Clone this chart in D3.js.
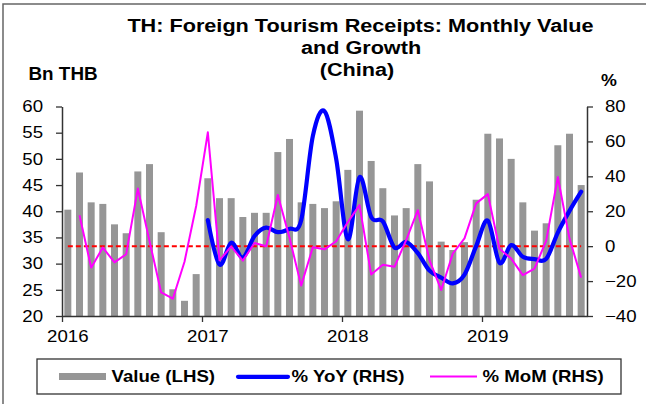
<!DOCTYPE html>
<html><head><meta charset="utf-8">
<script src="https://cdn.jsdelivr.net/npm/d3@7"></script>
<style>
body{margin:0;background:#fff}
svg{display:block}
text{font-family:'Liberation Sans',Arial,Helvetica,sans-serif}
</style>
</head><body>
<svg id="c" width="646" height="404"></svg>
<script>
const months = [
 "2016-01","2016-02","2016-03","2016-04","2016-05","2016-06","2016-07","2016-08","2016-09","2016-10","2016-11","2016-12",
 "2017-01","2017-02","2017-03","2017-04","2017-05","2017-06","2017-07","2017-08","2017-09","2017-10","2017-11","2017-12",
 "2018-01","2018-02","2018-03","2018-04","2018-05","2018-06","2018-07","2018-08","2018-09","2018-10","2018-11","2018-12",
 "2019-01","2019-02","2019-03","2019-04","2019-05","2019-06","2019-07","2019-08","2019-09"];
const valueLHS = [
 40.3,47.4,41.7,41.4,37.5,35.8,47.6,49.0,36.0,25.1,22.9,28.0,
 46.3,42.5,42.5,38.9,39.7,39.7,51.3,53.8,41.7,41.4,40.6,41.9,
 47.9,59.2,49.6,44.4,39.2,40.6,49.0,45.7,34.2,32.6,34.1,42.2,
 54.8,53.9,50.0,41.7,36.3,37.7,52.6,54.8,45.0];
const yoyRHS = [
 null,null,null,null,null,null,null,null,null,null,null,null,
 14.9,-10.5,2.0,-6.5,5.8,10.6,8.0,9.9,14.8,63.0,77.3,50.0,
 4.0,39.5,16.7,14.2,-0.8,2.4,-4.0,-14.0,-18.0,-21.3,-16.3,0.0,
 14.6,-9.5,0.6,-6.1,-7.4,-7.3,7.8,20.2,31.2];
const momRHS = [
 null,17.7,-12.3,-0.8,-9.3,-4.6,33.0,2.9,-26.5,-30.1,-8.9,23.0,
 65.2,-8.1,-0.2,-8.3,1.8,0.0,29.3,4.8,-22.6,-0.6,-1.8,2.8,
 13.8,23.5,-16.2,-10.7,-11.8,3.5,20.6,-8.0,-25.1,-4.2,4.5,24.5,
 29.8,-1.5,-7.1,-16.6,-12.8,3.0,39.6,4.3,-18.0];
const leftTicks = [20,25,30,35,40,45,50,55,60];
const rightTicks = [-40,-20,0,20,40,60,80];
const yearTickIdx = [0,12,24,36];
const yearLabelMonths = ["2016-01","2017-01","2018-01","2019-01"];
const yearLabels = ["2016","2017","2018","2019"];
const titleLines = ["TH: Foreign Tourism Receipts: Monthly Value","and Growth","(China)"];
const legendLabels = ["Value (LHS)","% YoY (RHS)","% MoM (RHS)"];

const SX = 1.13;
const svg = d3.select("#c");
const L = 62, R = 587, T = 106.5, B = 316;

const x = d3.scaleBand().domain(months).range([L,R]).paddingInner(0.4).paddingOuter(0.2);
const xc = d => x(d) + x.bandwidth()/2;
const xEdge = d3.scaleLinear().domain([0, months.length]).range([L,R]);
const yL = d3.scaleLinear().domain([20,60]).range([B,T]);
const yR = d3.scaleLinear().domain([-40,80]).range([B,T]);

function txt(parent, px, py, str, size, weight, anchor, sx){
  return parent.append("g").attr("transform",`translate(${px},${py})`)
    .append("text").attr("transform",`scale(${sx},1)`)
    .attr("font-size",size).attr("font-weight",weight).attr("text-anchor",anchor)
    .attr("fill","#000").text(str);
}

// frame
svg.append("path").attr("d","M3,404 V4 H646").attr("fill","none").attr("stroke","#666").attr("stroke-width",1.5);

// title
txt(svg,360.5,32,titleLines[0],19,"bold","middle",1.14);
txt(svg,361,54,titleLines[1],19,"bold","middle",1.14);
txt(svg,357,75.5,titleLines[2],19,"bold","middle",1.14);
txt(svg,28.5,80,"Bn THB",18.5,"bold","start",1.02);
txt(svg,601,86,"%",17,"bold","start",1.05);

// bars
svg.append("g").selectAll("rect").data(months).join("rect")
  .attr("x",d=>x(d)).attr("width",x.bandwidth())
  .attr("y",(d,i)=>yL(valueLHS[i])).attr("height",(d,i)=>B-yL(valueLHS[i]))
  .attr("fill","#969696");

// axes
function styleAxis(g, textX, anchor){
  g.attr("font-size",16.5).attr("font-family","'Liberation Sans',Arial,sans-serif");
  g.select(".domain").attr("stroke","#333").attr("stroke-width",1.5);
  g.selectAll(".tick line").attr("stroke","#333").attr("stroke-width",1.3);
  g.selectAll(".tick text").attr("fill","#000").attr("text-anchor",anchor)
    .attr("x",textX/SX).attr("transform",`scale(${SX},1)`);
}
const gl = svg.append("g").attr("transform",`translate(${L},0)`)
  .call(d3.axisLeft(yL).tickValues(leftTicks).tickSize(6).tickSizeOuter(0).tickPadding(13));
styleAxis(gl,-19,"end");
const gr = svg.append("g").attr("transform",`translate(${R},0)`)
  .call(d3.axisRight(yR).tickValues(rightTicks).tickSize(6).tickSizeOuter(0).tickPadding(12));
styleAxis(gr,18,"start");
const gb = svg.append("g").attr("transform",`translate(0,${B})`)
  .call(d3.axisBottom(xEdge).tickValues(yearTickIdx).tickSize(6).tickSizeOuter(0).tickFormat(""));
gb.select(".domain").attr("stroke","#333").attr("stroke-width",1.5);
gb.selectAll(".tick line").attr("stroke","#333").attr("stroke-width",1.3);
yearLabelMonths.forEach((m,i)=>txt(svg,xc(m),341.5,yearLabels[i],16.5,"normal","middle",SX));

// zero line
svg.append("line").attr("x1",xc(months[0])).attr("x2",xc(months[months.length-1]))
  .attr("y1",yR(0)).attr("y2",yR(0))
  .attr("stroke","#ff0000").attr("stroke-width",2).attr("stroke-dasharray","5,3");

// YoY
const yoyLine = d3.line().defined(d=>d[1]!==null).x(d=>xc(d[0])).y(d=>yR(d[1])).curve(d3.curveCatmullRom.alpha(0));
svg.append("path").datum(months.map((m,i)=>[m,yoyRHS[i]]))
  .attr("d",yoyLine).attr("fill","none").attr("stroke","#0000ff").attr("stroke-width",4.2)
  .attr("stroke-linejoin","round").attr("stroke-linecap","round");

// MoM
const momLine = d3.line().defined(d=>d[1]!==null).x(d=>xc(d[0])).y(d=>yR(d[1]));
svg.append("path").datum(months.map((m,i)=>[m,momRHS[i]]))
  .attr("d",momLine).attr("fill","none").attr("stroke","#ff00ff").attr("stroke-width",2)
  .attr("stroke-linejoin","round");

// legend
const lg = svg.append("g");
lg.append("rect").attr("x",37).attr("y",359).attr("width",584).attr("height",35)
  .attr("fill","#fff").attr("stroke","#333").attr("stroke-width",1.3);
lg.append("rect").attr("x",59).attr("y",373).attr("width",47).attr("height",7).attr("fill","#969696");
txt(lg,111.5,381.8,legendLabels[0],16.5,"bold","start",SX);
lg.append("line").attr("x1",238).attr("x2",288).attr("y1",376.8).attr("y2",376.8)
  .attr("stroke","#0000ff").attr("stroke-width",4.2).attr("stroke-linecap","round");
txt(lg,291.5,381.8,legendLabels[1],16.5,"bold","start",SX);
lg.append("line").attr("x1",430).attr("x2",477).attr("y1",376.5).attr("y2",376.5)
  .attr("stroke","#ff00ff").attr("stroke-width",2);
txt(lg,482.5,381.8,legendLabels[2],16.5,"bold","start",SX);
</script>
</body></html>
